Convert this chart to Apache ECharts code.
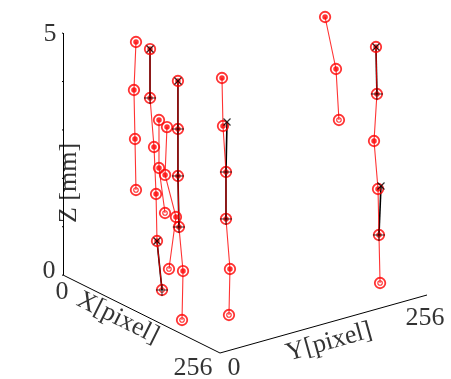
<!DOCTYPE html>
<html>
<head>
<meta charset="utf-8">
<script src="https://cdn.jsdelivr.net/npm/echarts@6/dist/echarts.min.js"></script>
<style>
  html, body { margin: 0; padding: 0; background: #ffffff; }
  #chart { width: 451px; height: 379px; }
</style>
</head>
<body>
<div id="chart"></div>
<script>
// Tracked particles: each point is [X pixel, Y pixel, Z mm].
// Estimated tracks (red)
const trackA = [[61.8, 43.4, 5], [59.8, 42.4, 4], [61.6, 42.3, 3], [67.7, 38.9, 2]];
const trackB = [[84.8, 43.3, 5], [86.0, 42.4, 4], [89.6, 44.6, 3], [87.9, 48.4, 2], [85.5, 51.4, 1], [89.7, 54.4, 0]];
const trackC = [[137.4, 14.5, 4], [136.6, 15.1, 3], [133.0, 25.3, 2]];
const trackD = [[156.9, 9.6, 4], [154.8, 8.8, 3], [147.8, 27.6, 2], [151.3, 16.3, 1]];
const trackE = [[168.3, 14.5, 5], [167.5, 15.1, 4], [164.5, 17.4, 3], [170.6, 14.0, 2], [163.8, 24.2, 1], [164.4, 22.5, 0]];
const trackF = [[187.9, 54.1, 5], [187.7, 55.5, 4], [184.4, 61.7, 3], [181.4, 64.0, 2], [187.2, 64.5, 1], [181.5, 67.6, 0]];
const trackG = [[120.5, 232.7, 5], [134.5, 235.6, 4], [141.7, 233.8, 3]];
const trackH = [[213.4, 225.2, 5], [211.0, 228.2, 4], [206.4, 228.1, 3], [207.9, 231.9, 2], [203.4, 236.5, 1], [203.2, 238.0, 0]];

// Ground-truth tracks (black)
const truth1 = [[84.8, 43.3, 5], [86.0, 42.4, 4]];
const truth2 = [[85.5, 51.4, 1], [89.7, 54.4, 0]];
const truth3 = [[168.3, 14.5, 5], [167.5, 15.1, 4], [164.5, 17.4, 3], [170.6, 14.0, 2]];
const truth4 = [[181.6, 65.1, 4], [184.4, 61.7, 3], [181.4, 64.0, 2]];
const truth5 = [[213.4, 225.2, 5], [211.0, 228.2, 4]];
const truth6 = [[203.4, 239.0, 2], [203.4, 236.5, 1]];

// Axis ranges and tick labels
const xRange = [0, 256];
const yRange = [0, 256];
const zRange = [0, 5];
const zTicks = [0, 1, 2, 3, 4, 5];
const xTickLabels = ['0', '256'];
const yTickLabels = ['0', '256'];
const zTickLabels = ['0', '5'];
const xName = 'X[pixel]';
const yName = 'Y[pixel]';
const zName = 'Z [mm]';

const estimated = [trackA, trackB, trackC, trackD, trackE, trackF, trackG, trackH];
const truth = [truth1, truth2, truth3, truth4, truth5, truth6];

// Oblique view: screen offset (in plane units) of one unit along each 3D axis
const X_DIR = [157 / 256, -78 / 256];
const Y_DIR = [207 / 256, 58 / 256];
const Z_DIR = [0, 48.4];
function project(p) {
  return [
    p[0] * X_DIR[0] + p[1] * Y_DIR[0] + p[2] * Z_DIR[0],
    p[0] * X_DIR[1] + p[1] * Y_DIR[1] + p[2] * Z_DIR[1]
  ];
}

const FONT = 'Liberation Serif';
const RED = '#ff0000';

// Box axes and z ticks
const axisSegments = [
  { coords: [project([xRange[0], yRange[0], zRange[0]]), project([xRange[0], yRange[0], zRange[1]])] },
  { coords: [project([xRange[0], yRange[0], zRange[0]]), project([xRange[1], yRange[0], zRange[0]])] },
  { coords: [project([xRange[1], yRange[0], zRange[0]]), project([xRange[1], yRange[1], zRange[0]])] }
];
zTicks.forEach(function (z) {
  axisSegments.push({ coords: [project([0, 0, z]), project([0, -5, z])] });
});

// Text labels anchored at 3D positions
function textItem(name, p3, offset, rotate) {
  return {
    name: name,
    value: project(p3),
    label: { offset: offset, rotate: rotate || 0 }
  };
}
const textData = [
  textItem(zTickLabels[0], [0, 0, zRange[0]], [-14, -4]),
  textItem(zTickLabels[1], [0, 0, zRange[1]], [-13, 1]),
  textItem(xTickLabels[0], [xRange[0], 0, 0], [-1, 17]),
  textItem(xTickLabels[1], [xRange[1], 0, 0], [-27, 15]),
  textItem(yTickLabels[0], [xRange[1], yRange[0], 0], [14, 15]),
  textItem(yTickLabels[1], [xRange[1], yRange[1], 0], [-2, 23]),
  textItem(xName, [128, 0, 0], [-19.5, 14], -26.4),
  textItem(yName, [256, 128, 0], [0.5, 19], 15.7),
  textItem(zName, [0, 0, 2.5], [-29, 6], 90)
];

const series = [];

series.push({
  type: 'lines',
  coordinateSystem: 'cartesian2d',
  data: axisSegments,
  lineStyle: { color: '#000', width: 1, opacity: 1 },
  silent: true,
  z: 1
});

truth.forEach(function (t) {
  series.push({
    type: 'line',
    data: t.map(project),
    showSymbol: false,
    lineStyle: { color: '#000', width: 1.6 },
    silent: true,
    z: 2
  });
});

estimated.forEach(function (t) {
  series.push({
    type: 'line',
    data: t.map(project),
    showSymbol: false,
    lineStyle: { color: RED, width: 1.1, opacity: 0.8 },
    silent: true,
    z: 3
  });
});

const allPts = [], innerDots = [], endPts = [];
estimated.forEach(function (t) {
  t.forEach(function (p, i) {
    allPts.push(project(p));
    if (i === t.length - 1) endPts.push(project(p));
    else innerDots.push(project(p));
  });
});
const startPts = [], restPts = [];
truth.forEach(function (t) {
  t.forEach(function (p, i) {
    (i === 0 ? startPts : restPts).push(project(p));
  });
});

series.push({
  type: 'scatter', data: allPts, symbol: 'circle', symbolSize: 10.5,
  itemStyle: { color: 'rgba(0,0,0,0)', borderColor: RED, borderWidth: 1.8 },
  silent: true, z: 4
});
series.push({
  type: 'scatter', data: innerDots, symbol: 'circle', symbolSize: 5.5,
  itemStyle: { color: RED },
  silent: true, z: 4
});
series.push({
  type: 'scatter', data: endPts, symbol: 'circle', symbolSize: 4.5,
  itemStyle: { color: 'rgba(0,0,0,0)', borderColor: RED, borderWidth: 1.1 },
  silent: true, z: 4
});
series.push({
  type: 'scatter', data: startPts, symbol: 'path://M0,0L10,10M10,0L0,10', symbolSize: 7,
  itemStyle: { color: 'rgba(0,0,0,0)', borderColor: '#000', borderWidth: 1.2 },
  silent: true, z: 5
});
series.push({
  type: 'scatter', data: restPts, symbol: 'path://M0,5L10,5M5,0L5,10', symbolSize: 12,
  itemStyle: { color: 'rgba(0,0,0,0)', borderColor: '#000', borderWidth: 1 },
  silent: true, z: 5
});

series.push({
  type: 'scatter',
  data: textData,
  symbolSize: 0,
  silent: true,
  z: 6,
  label: {
    show: true,
    position: 'inside',
    formatter: '{b}',
    color: '#000',
    fontFamily: FONT,
    fontSize: 26,
    align: 'center',
    verticalAlign: 'middle'
  }
});

const chart = echarts.init(document.getElementById('chart'), null, { renderer: 'canvas' });
chart.setOption({
  animation: false,
  backgroundColor: '#ffffff',
  grid: { left: 63, top: 0, width: 388, height: 379 },
  xAxis: { type: 'value', min: 0, max: 388, show: false },
  yAxis: { type: 'value', min: -104, max: 275, show: false },
  series: series
});
</script>
</body>
</html>
